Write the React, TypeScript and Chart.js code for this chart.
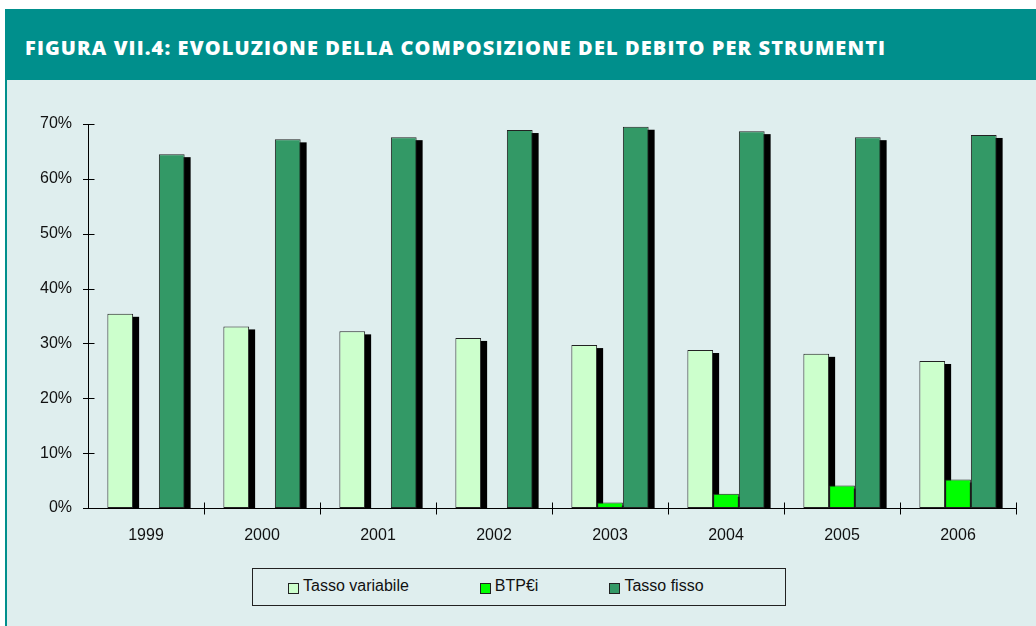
import React, { useEffect, useRef } from "react";
import { Chart, registerables } from "chart.js";

Chart.register(...registerables);

const years = ["1999", "2000", "2001", "2002", "2003", "2004", "2005", "2006"];
const tassoVariabile = [35.4, 33.1, 32.2, 31.0, 29.7, 28.8, 28.1, 26.8];
const btpEi = [0, 0, 0, 0, 1.0, 2.6, 4.1, 5.2];
const tassoFisso = [64.5, 67.2, 67.6, 68.9, 69.5, 68.7, 67.6, 68.0];
const yTicks = [0, 10, 20, 30, 40, 50, 60, 70];
const seriesNames = ["Tasso variabile", "BTP€i", "Tasso fisso"];
const seriesColors = ["#CCFFCC", "#00FF00", "#339966"];
const title = "FIGURA VII.4: EVOLUZIONE DELLA COMPOSIZIONE DEL DEBITO PER STRUMENTI";

const TEAL = "#008F8C";
const BG = "#DFEEEE";
const FONT = "'Liberation Sans', Arial, sans-serif";

const shadowPlugin = {
  id: "barShadow",
  beforeDatasetsDraw(chart: any) {
    const ctx = chart.ctx;
    ctx.save();
    ctx.fillStyle = "#000";
    chart.data.datasets.forEach((ds: any, i: number) => {
      const meta = chart.getDatasetMeta(i);
      meta.data.forEach((bar: any, j: number) => {
        const v = ds.data[j];
        if (!v) return;
        const p = bar.getProps(["x", "y", "base", "width"], true);
        const left = p.x - p.width / 2 + 6;
        const top = p.y + 3;
        ctx.fillRect(left, top, p.width, p.base - top);
      });
    });
    ctx.restore();
  },
  afterDraw(chart: any) {
    const ctx = chart.ctx;
    const xs = chart.scales.x;
    const ys = chart.scales.y;
    ctx.save();
    ctx.strokeStyle = "#000";
    ctx.lineWidth = 1;
    ctx.beginPath();
    const ax = Math.round(xs.left) + 0.5;
    yTicks.forEach((v) => {
      const y = Math.round(ys.getPixelForValue(v)) + 0.5;
      ctx.moveTo(ax - 5.5, y);
      ctx.lineTo(ax + 6, y);
    });
    const base = Math.round(ys.getPixelForValue(0)) + 0.5;
    const n = years.length;
    for (let i = 1; i <= n; i++) {
      const x = Math.round(xs.left + (i * (xs.right - xs.left)) / n) + 0.5;
      ctx.moveTo(x, base - 6);
      ctx.lineTo(x, base + 6);
    }
    ctx.stroke();
    ctx.restore();
  },
};

function ChartCanvas() {
  const ref = useRef<HTMLCanvasElement | null>(null);
  useEffect(() => {
    if (!ref.current) return;
    const datasets = [tassoVariabile, btpEi, tassoFisso].map((d, i) => ({
      label: seriesNames[i],
      data: d,
      backgroundColor: seriesColors[i],
      borderColor: "#222222",
      borderWidth: (c: any) => (c.raw ? 1 : 0),
      borderSkipped: false,
      categoryPercentage: 0.666,
      barPercentage: 1,
    }));
    const chart = new Chart(ref.current, {
      type: "bar",
      data: { labels: years, datasets },
      options: {
        animation: false,
        responsive: false,
        maintainAspectRatio: false,
        layout: { padding: { top: 44, right: 20, left: 0, bottom: 0 } },
        plugins: { legend: { display: false }, tooltip: { enabled: false } },
        scales: {
          x: {
            grid: { display: false, drawTicks: false },
            border: { display: true, color: "#000", width: 1 },
            ticks: { color: "#111", font: { family: FONT, size: 16 }, padding: 18 },
            afterFit: (s: any) => {
              s.height = 42;
            },
          },
          y: {
            min: 0,
            max: 70,
            grid: { display: false, drawTicks: false },
            border: { display: true, color: "#000", width: 1 },
            ticks: {
              stepSize: 10,
              color: "#111",
              font: { family: FONT, size: 16 },
              padding: 16,
              callback: (v: any) => v + "%",
            },
            afterFit: (s: any) => {
              s.width = 88;
            },
          },
        },
      },
      plugins: [shadowPlugin],
    });
    return () => chart.destroy();
  }, []);
  return (
    <canvas
      ref={ref}
      width={1036}
      height={470}
      style={{ position: "absolute", left: 0, top: 80, width: 1036, height: 470 }}
    />
  );
}

export default function App() {
  return (
    <div style={{ position: "absolute", left: 0, top: 0, width: 1036, height: 626, background: "#fff", overflow: "hidden" }}>
      <div style={{ position: "absolute", left: 5, top: 9, width: 1031, height: 71, background: TEAL }}>
        <div
          style={{
            position: "absolute",
            left: 20,
            top: 3,
            height: 71,
            lineHeight: "71px",
            color: "#fff",
            fontFamily: "'Open Sans', sans-serif",
            fontWeight: 800,
            fontSize: 20,
            letterSpacing: "1.1px",
            whiteSpace: "nowrap",
          }}
        >
          {title}
        </div>
      </div>
      <div style={{ position: "absolute", left: 5, top: 80, width: 1031, height: 546, background: BG }} />
      <div style={{ position: "absolute", left: 5, top: 80, width: 2, height: 546, background: TEAL }} />
      <ChartCanvas />
      <div
        style={{
          position: "absolute",
          left: 252,
          top: 568,
          width: 497,
          height: 36,
          border: "1px solid #222",
          display: "flex",
          alignItems: "center",
          paddingLeft: 35,
          boxSizing: "content-box",
          gap: 71,
          fontFamily: FONT,
          fontSize: 16,
          color: "#111",
        }}
      >
        {seriesNames.map((n, i) => (
          <div key={n} style={{ display: "flex", alignItems: "center", whiteSpace: "nowrap", marginTop: -3 }}>
            <span
              style={{
                display: "inline-block",
                width: 9,
                height: 9,
                border: "1px solid #222",
                background: seriesColors[i],
                marginRight: 4,
                marginTop: 6,
              }}
            />
            <span>{n}</span>
          </div>
        ))}
      </div>
    </div>
  );
}
